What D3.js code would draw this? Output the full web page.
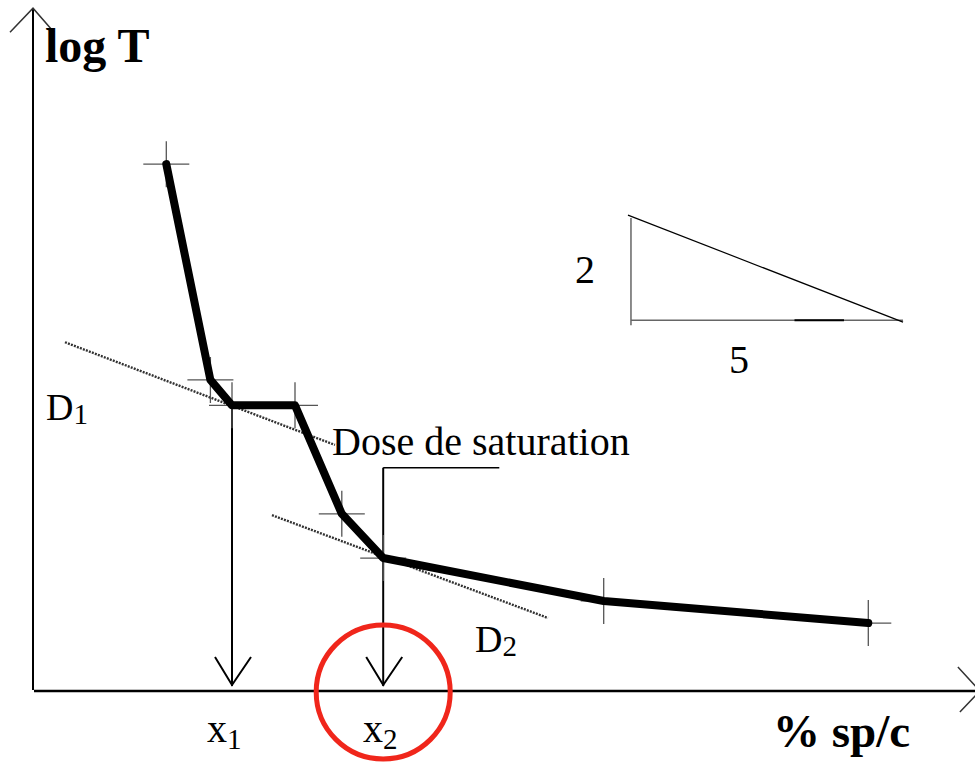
<!DOCTYPE html>
<html>
<head>
<meta charset="utf-8">
<script src="https://cdn.jsdelivr.net/npm/d3@7"></script>
<style>
  body { margin: 0; background: #fff; }
  svg { display: block; }
  text { font-family: "Liberation Serif", "DejaVu Serif", serif; fill: #000; }
</style>
</head>
<body>
<div id="chart"></div>
<script>
// curve points (x = % sp/c, y = log T), arbitrary units
var spc  = [1.47, 1.96, 2.2, 2.9, 3.42, 3.88, 6.33, 9.27];
var logT = [8.09, 4.77, 4.38, 4.38, 2.71, 2.03, 1.37, 1.03];

// tangent lines D1 and D2: [x0, y0, x1, y1]
var tangentD1 = [0.344, 5.35, 3.344, 3.77];
var tangentD2 = [2.644, 2.69, 5.711, 1.108];

// slope triangle (2 over 5)
var triCorner = [6.633, 5.69];
var triTop = 7.26;
var triRight = 9.656;

var doseX1 = 2.2, doseX2 = 3.88;

var width = 975, height = 762;
var svg = d3.select("#chart").append("svg")
    .attr("width", width)
    .attr("height", height);

var x = d3.scaleLinear().domain([0, 10]).range([34, 934]);
var y = d3.scaleLinear().domain([0, 10]).range([690, 40]);

var data = spc.map(function (d, i) { return { x: d, y: logT[i] }; });

// axes
svg.append("line")
    .attr("x1", x(0) - 1).attr("x2", x(0) - 1)
    .attr("y1", y(0)).attr("y2", y(10.49))
    .attr("stroke", "#000").attr("stroke-width", 2);
svg.append("path")
    .attr("d", "M" + (x(0) - 24) + "," + (y(10.49) + 24) + "L" + (x(0) - 1) + "," + y(10.49) + "L" + (x(0) + 20) + "," + (y(10.49) + 24))
    .attr("fill", "none").attr("stroke", "#333").attr("stroke-width", 1.5);

svg.append("line")
    .attr("x1", x(0)).attr("x2", x(10.51))
    .attr("y1", y(0) + 1).attr("y2", y(0) + 1)
    .attr("stroke", "#000").attr("stroke-width", 2.5);
svg.append("path")
    .attr("d", "M" + (x(10.51) - 22) + "," + (y(0) - 23) + "L" + x(10.51) + "," + (y(0) + 1) + "L" + (x(10.51) - 20) + "," + (y(0) + 22))
    .attr("fill", "none").attr("stroke", "#333").attr("stroke-width", 1.5);

// tangents (dotted)
[tangentD1, tangentD2].forEach(function (t) {
  svg.append("line")
      .attr("x1", x(t[0])).attr("y1", y(t[1]))
      .attr("x2", x(t[2])).attr("y2", y(t[3]))
      .attr("stroke", "#333").attr("stroke-width", 2.4)
      .attr("stroke-dasharray", "2,1.2");
});

// drop lines to x1 and x2 with open arrowheads
function dropArrow(xv, yv) {
  var px = x(xv);
  svg.append("line")
      .attr("x1", px).attr("x2", px)
      .attr("y1", y(yv)).attr("y2", y(0) - 4)
      .attr("stroke", "#000").attr("stroke-width", 2);
  svg.append("path")
      .attr("d", "M" + (px - 17) + "," + (y(0) - 33) + "L" + px + "," + (y(0) - 5) + "L" + (px + 19) + "," + (y(0) - 33))
      .attr("fill", "none").attr("stroke", "#000").attr("stroke-width", 2);
}
dropArrow(doseX1, logT[2]);
dropArrow(doseX2, 3.42);

// leader for "Dose de saturation"
svg.append("line")
    .attr("x1", x(doseX2)).attr("x2", x(5.17))
    .attr("y1", y(3.42)).attr("y2", y(3.42))
    .attr("stroke", "#000").attr("stroke-width", 1.5);

// crosses at data points
data.forEach(function (d) {
  var cx = x(d.x), cy = y(d.y);
  svg.append("path")
      .attr("d", "M" + (cx - 23) + "," + cy + "H" + (cx + 23) + "M" + cx + "," + (cy - 23) + "V" + (cy + 23))
      .attr("stroke", "#555").attr("stroke-width", 1.3).attr("fill", "none");
});

// main curve
svg.append("path")
    .datum(data)
    .attr("fill", "none")
    .attr("stroke", "#000")
    .attr("stroke-width", 8)
    .attr("stroke-linejoin", "round")
    .attr("stroke-linecap", "round")
    .attr("d", d3.line().x(function (d) { return x(d.x); }).y(function (d) { return y(d.y); }));

// slope triangle
svg.append("line")
    .attr("x1", x(triCorner[0])).attr("x2", x(triCorner[0]))
    .attr("y1", y(triTop)).attr("y2", y(triCorner[1]) + 5)
    .attr("stroke", "#666").attr("stroke-width", 1.5);
svg.append("line")
    .attr("x1", x(triCorner[0])).attr("x2", x(triRight))
    .attr("y1", y(triCorner[1])).attr("y2", y(triCorner[1]))
    .attr("stroke", "#666").attr("stroke-width", 1.5);
svg.append("line")
    .attr("x1", x(8.45)).attr("x2", x(9.0))
    .attr("y1", y(triCorner[1])).attr("y2", y(triCorner[1]))
    .attr("stroke", "#000").attr("stroke-width", 2);
svg.append("line")
    .attr("x1", x(triCorner[0]) - 3).attr("y1", y(triTop) - 3)
    .attr("x2", x(triRight)).attr("y2", y(triCorner[1]) + 2)
    .attr("stroke", "#000").attr("stroke-width", 1.2);

// red circle around x2
svg.append("circle")
    .attr("cx", x(doseX2)).attr("cy", y(0) + 2)
    .attr("r", 67)
    .attr("fill", "none").attr("stroke", "#f0261b").attr("stroke-width", 5);

// labels
svg.append("text").attr("x", 45).attr("y", 62)
    .attr("font-size", 48).attr("font-weight", "bold").text("log T");
svg.append("text").attr("x", 773).attr("y", 747)
    .attr("font-size", 47).attr("font-weight", "bold").text("% sp/c");

svg.append("text").attr("x", 332).attr("y", 455)
    .attr("font-size", 40).text("Dose de saturation");

function subLabel(px, py, main, sub, fs, ss, dy) {
  var t = svg.append("text").attr("x", px).attr("y", py).attr("font-size", fs);
  t.append("tspan").text(main);
  t.append("tspan").attr("font-size", ss).attr("dy", dy).text(sub);
}
subLabel(46, 420, "D", "1", 38, 29, 4);
subLabel(475, 652, "D", "2", 38, 29, 4);
subLabel(207, 742, "x", "1", 40, 29, 7);
subLabel(363, 742, "x", "2", 40, 29, 7);

svg.append("text").attr("x", 575).attr("y", 283).attr("font-size", 40).text("2");
svg.append("text").attr("x", 729).attr("y", 373).attr("font-size", 40).text("5");
</script>
</body>
</html>
